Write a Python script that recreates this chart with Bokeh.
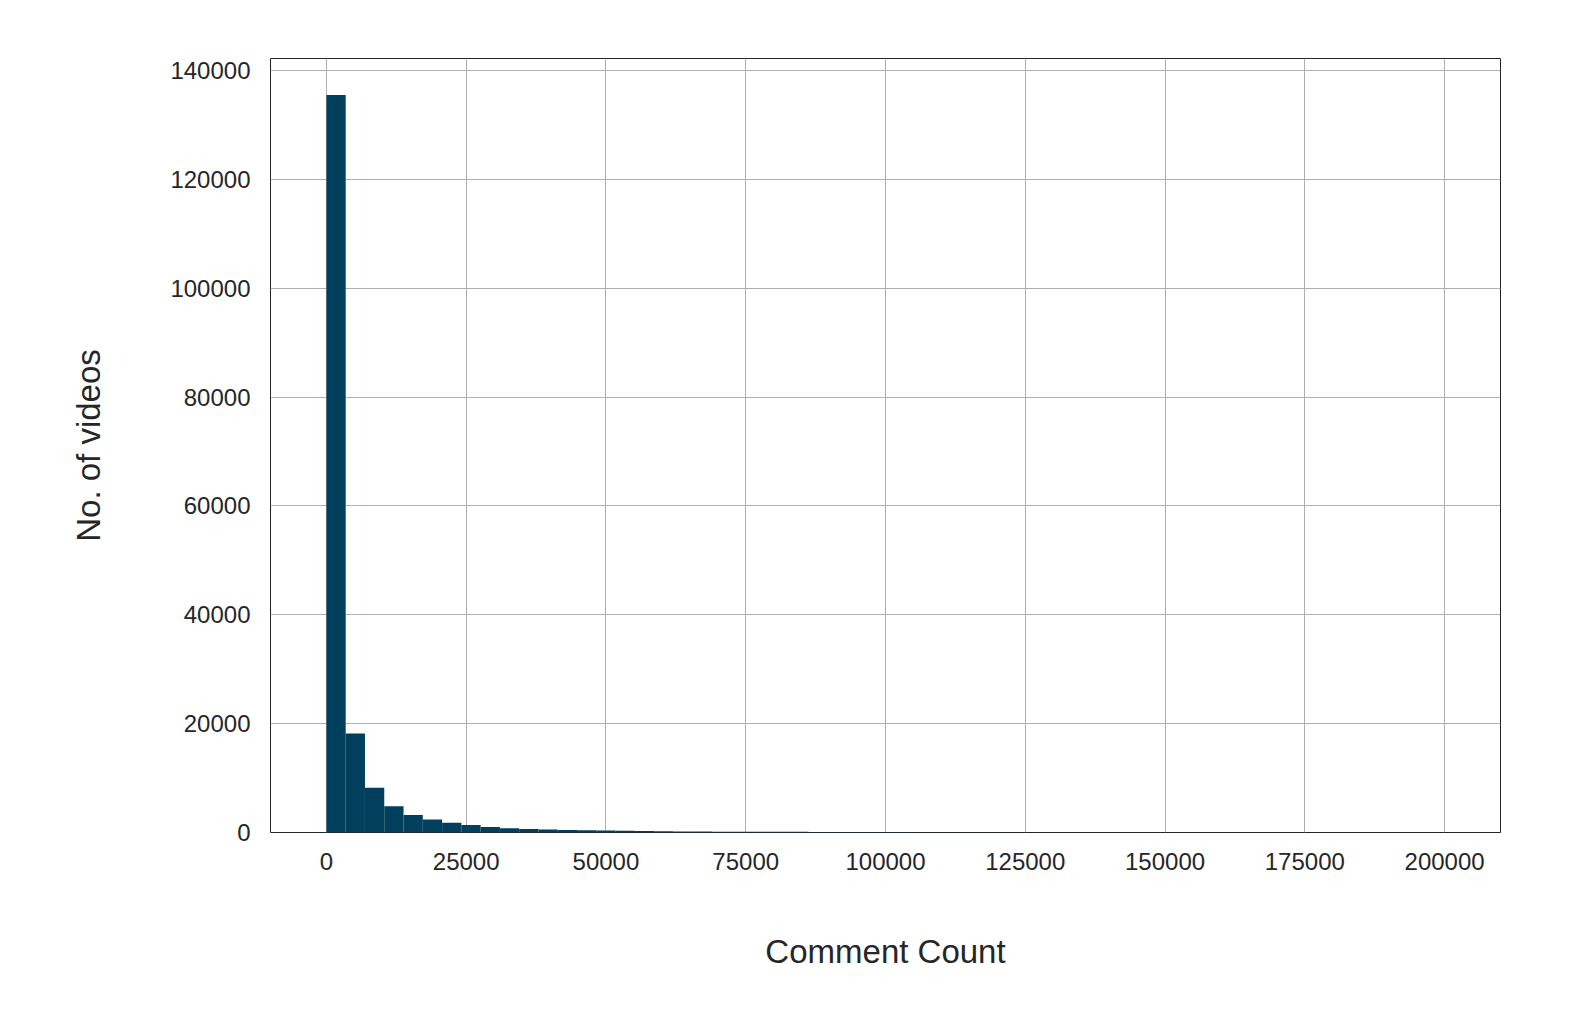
import numpy as np
from bokeh.plotting import figure
from bokeh.models import Range1d, NumeralTickFormatter
from bokeh.embed import file_html
from bokeh.resources import INLINE

# Histogram of comment counts, 58 bins spanning 0..200000
bin_width = 200000 / 58
counts = [135500, 18200, 8200, 4800, 3200, 2400, 1800, 1400, 1000, 800,
          650, 550, 450, 400, 350, 300, 260, 230, 200, 180,
          160, 150, 140, 130, 120, 110, 100, 90, 80, 70,
          60, 55, 40, 35, 30, 25, 22, 20, 18, 16,
          14, 12, 10, 10, 9, 8, 7, 6, 5, 5,
          4, 4, 3, 3, 2, 2, 2, 1]

left = np.arange(len(counts)) * bin_width
right = left + bin_width

FONT = "Arial, Liberation Sans"

p = figure(width=1560, height=1010, output_backend="svg", toolbar_location=None,
           x_range=Range1d(-10000, 210000), y_range=Range1d(0, 142200),
           min_border_left=270, min_border_top=58, min_border_bottom=178, min_border_right=60)
p.quad(left=left, right=right, bottom=0, top=counts, fill_color="#023f5c", line_color=None)

p.xaxis.ticker = list(range(0, 200001, 25000))
p.yaxis.ticker = list(range(0, 140001, 20000))
p.xaxis.formatter = NumeralTickFormatter(format="0")
p.yaxis.formatter = NumeralTickFormatter(format="0")
p.xaxis.axis_label = "Comment Count"
p.yaxis.axis_label = "No. of videos"
for ax in (p.xaxis, p.yaxis):
    ax.axis_label_text_font = FONT
    ax.axis_label_text_font_style = "normal"
    ax.axis_label_text_font_size = "33px"
    ax.axis_label_text_color = "#262626"
    ax.major_label_text_font = FONT
    ax.major_label_text_font_size = "24px"
    ax.major_label_text_color = "#262626"
    ax.axis_line_color = None
    ax.major_tick_line_color = None
    ax.minor_tick_line_color = None
p.xaxis.major_label_standoff = 14
p.yaxis.major_label_standoff = 14
p.xaxis.axis_label_standoff = 60
p.yaxis.axis_label_standoff = 60
p.grid.grid_line_color = "#b0b0b0"
p.outline_line_color = "#262626"
p.background_fill_color = "white"

open("out.html", "w").write(file_html(p, INLINE))
